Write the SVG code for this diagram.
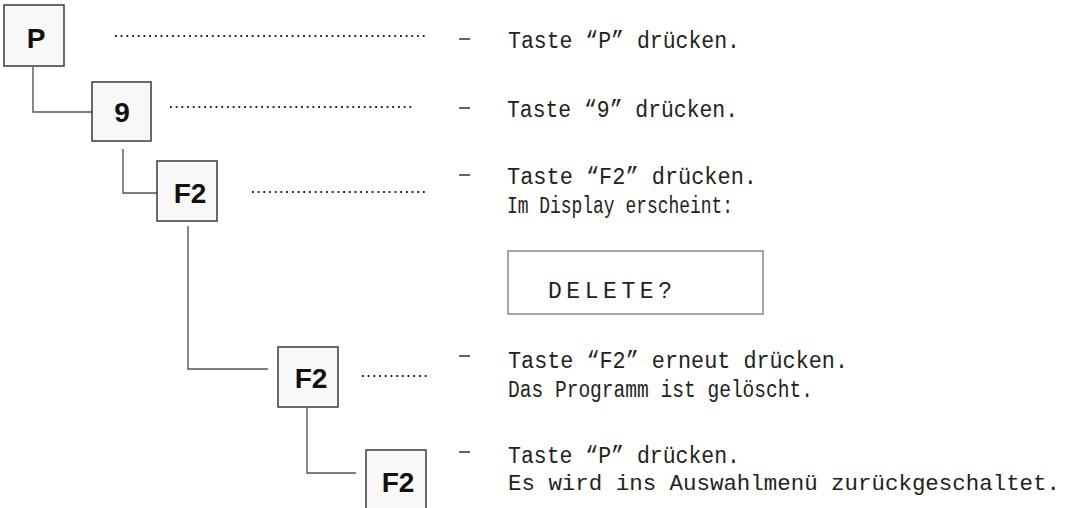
<svg xmlns="http://www.w3.org/2000/svg" width="1071" height="508" viewBox="0 0 1071 508">
  <style>
    .key rect { fill: #f8f8f8; stroke: #3a3a3a; stroke-width: 1.5; }
    .key text { font-family: "Liberation Sans", Arial, sans-serif; font-weight: bold; font-size: 28px; fill: #111; text-anchor: middle; }
    .wire { fill: none; stroke: #555; stroke-width: 1.4; }
    .dots { fill: none; stroke: #222; stroke-width: 1.8; stroke-dasharray: 1.8 3.9; }
    .dash { stroke: #222; stroke-width: 1.4; }
    .step { font-family: "Liberation Mono", "Courier New", monospace; font-size: 23px; fill: #222; }
    .step.long { font-size: 22px; }
    .display rect { fill: #fff; stroke: #777; stroke-width: 1.3; }
  </style>

  <!-- tree connectors between key boxes -->
  <g id="connectors">
    <polyline class="wire" points="33,67 33,112 92,112"/>
    <polyline class="wire" points="123,149 123,193 157,193"/>
    <polyline class="wire" points="188,226 188,369 268,369"/>
    <polyline class="wire" points="307,408 307,473 356,473"/>
    <!-- leader dots to the step descriptions -->
    <line class="dots" x1="115" y1="36" x2="425" y2="36"/>
    <line class="dots" x1="170" y1="107" x2="412" y2="107"/>
    <line class="dots" x1="252" y1="192" x2="425" y2="192"/>
    <line class="dots" x1="362" y1="376" x2="430" y2="376"/>
  </g>

  <!-- key boxes -->
  <g id="key-p" class="key">
    <rect x="4" y="5" width="60" height="61"/>
    <text x="36" y="48">P</text>
  </g>
  <g id="key-9" class="key">
    <rect x="92" y="82" width="59" height="59"/>
    <text x="122" y="122">9</text>
  </g>
  <g id="key-f2-a" class="key">
    <rect x="157" y="161" width="60" height="60"/>
    <text x="190" y="203">F2</text>
  </g>
  <g id="key-f2-b" class="key">
    <rect x="278" y="347" width="60" height="60"/>
    <text x="311" y="388">F2</text>
  </g>
  <g id="key-f2-c" class="key">
    <rect x="366" y="450" width="60" height="62"/>
    <text x="398" y="492">F2</text>
  </g>

  <!-- step descriptions -->
  <g id="step-1">
    <line class="dash" x1="459" y1="39" x2="470" y2="39"/>
    <text class="step" x="508" y="48" textLength="232" lengthAdjust="spacingAndGlyphs">Taste “P” drücken.</text>
  </g>
  <g id="step-2">
    <line class="dash" x1="459" y1="108" x2="470" y2="108"/>
    <text class="step" x="507" y="117" textLength="231" lengthAdjust="spacingAndGlyphs">Taste “9” drücken.</text>
  </g>
  <g id="step-3">
    <line class="dash" x1="459" y1="175" x2="470" y2="175"/>
    <text class="step" x="507" y="184" textLength="250" lengthAdjust="spacingAndGlyphs">Taste “F2” drücken.</text>
    <text class="step" x="507" y="213" textLength="226" lengthAdjust="spacingAndGlyphs">Im Display erscheint:</text>
  </g>
  <g id="display" class="display">
    <rect x="508" y="251" width="255" height="63"/>
    <text class="step" x="548" y="298" textLength="124" lengthAdjust="spacing">DELETE?</text>
  </g>
  <g id="step-4">
    <line class="dash" x1="459" y1="356" x2="470" y2="356"/>
    <text class="step" x="508" y="368" textLength="340" lengthAdjust="spacingAndGlyphs">Taste “F2” erneut drücken.</text>
    <text class="step" x="508" y="397" textLength="305" lengthAdjust="spacingAndGlyphs">Das Programm ist gelöscht.</text>
  </g>
  <g id="step-5">
    <line class="dash" x1="459" y1="452" x2="470" y2="452"/>
    <text class="step" x="508" y="463" textLength="232" lengthAdjust="spacingAndGlyphs">Taste “P” drücken.</text>
    <text class="step long" x="508" y="490" textLength="552" lengthAdjust="spacingAndGlyphs">Es wird ins Auswahlmenü zurückgeschaltet.</text>
  </g>
</svg>
